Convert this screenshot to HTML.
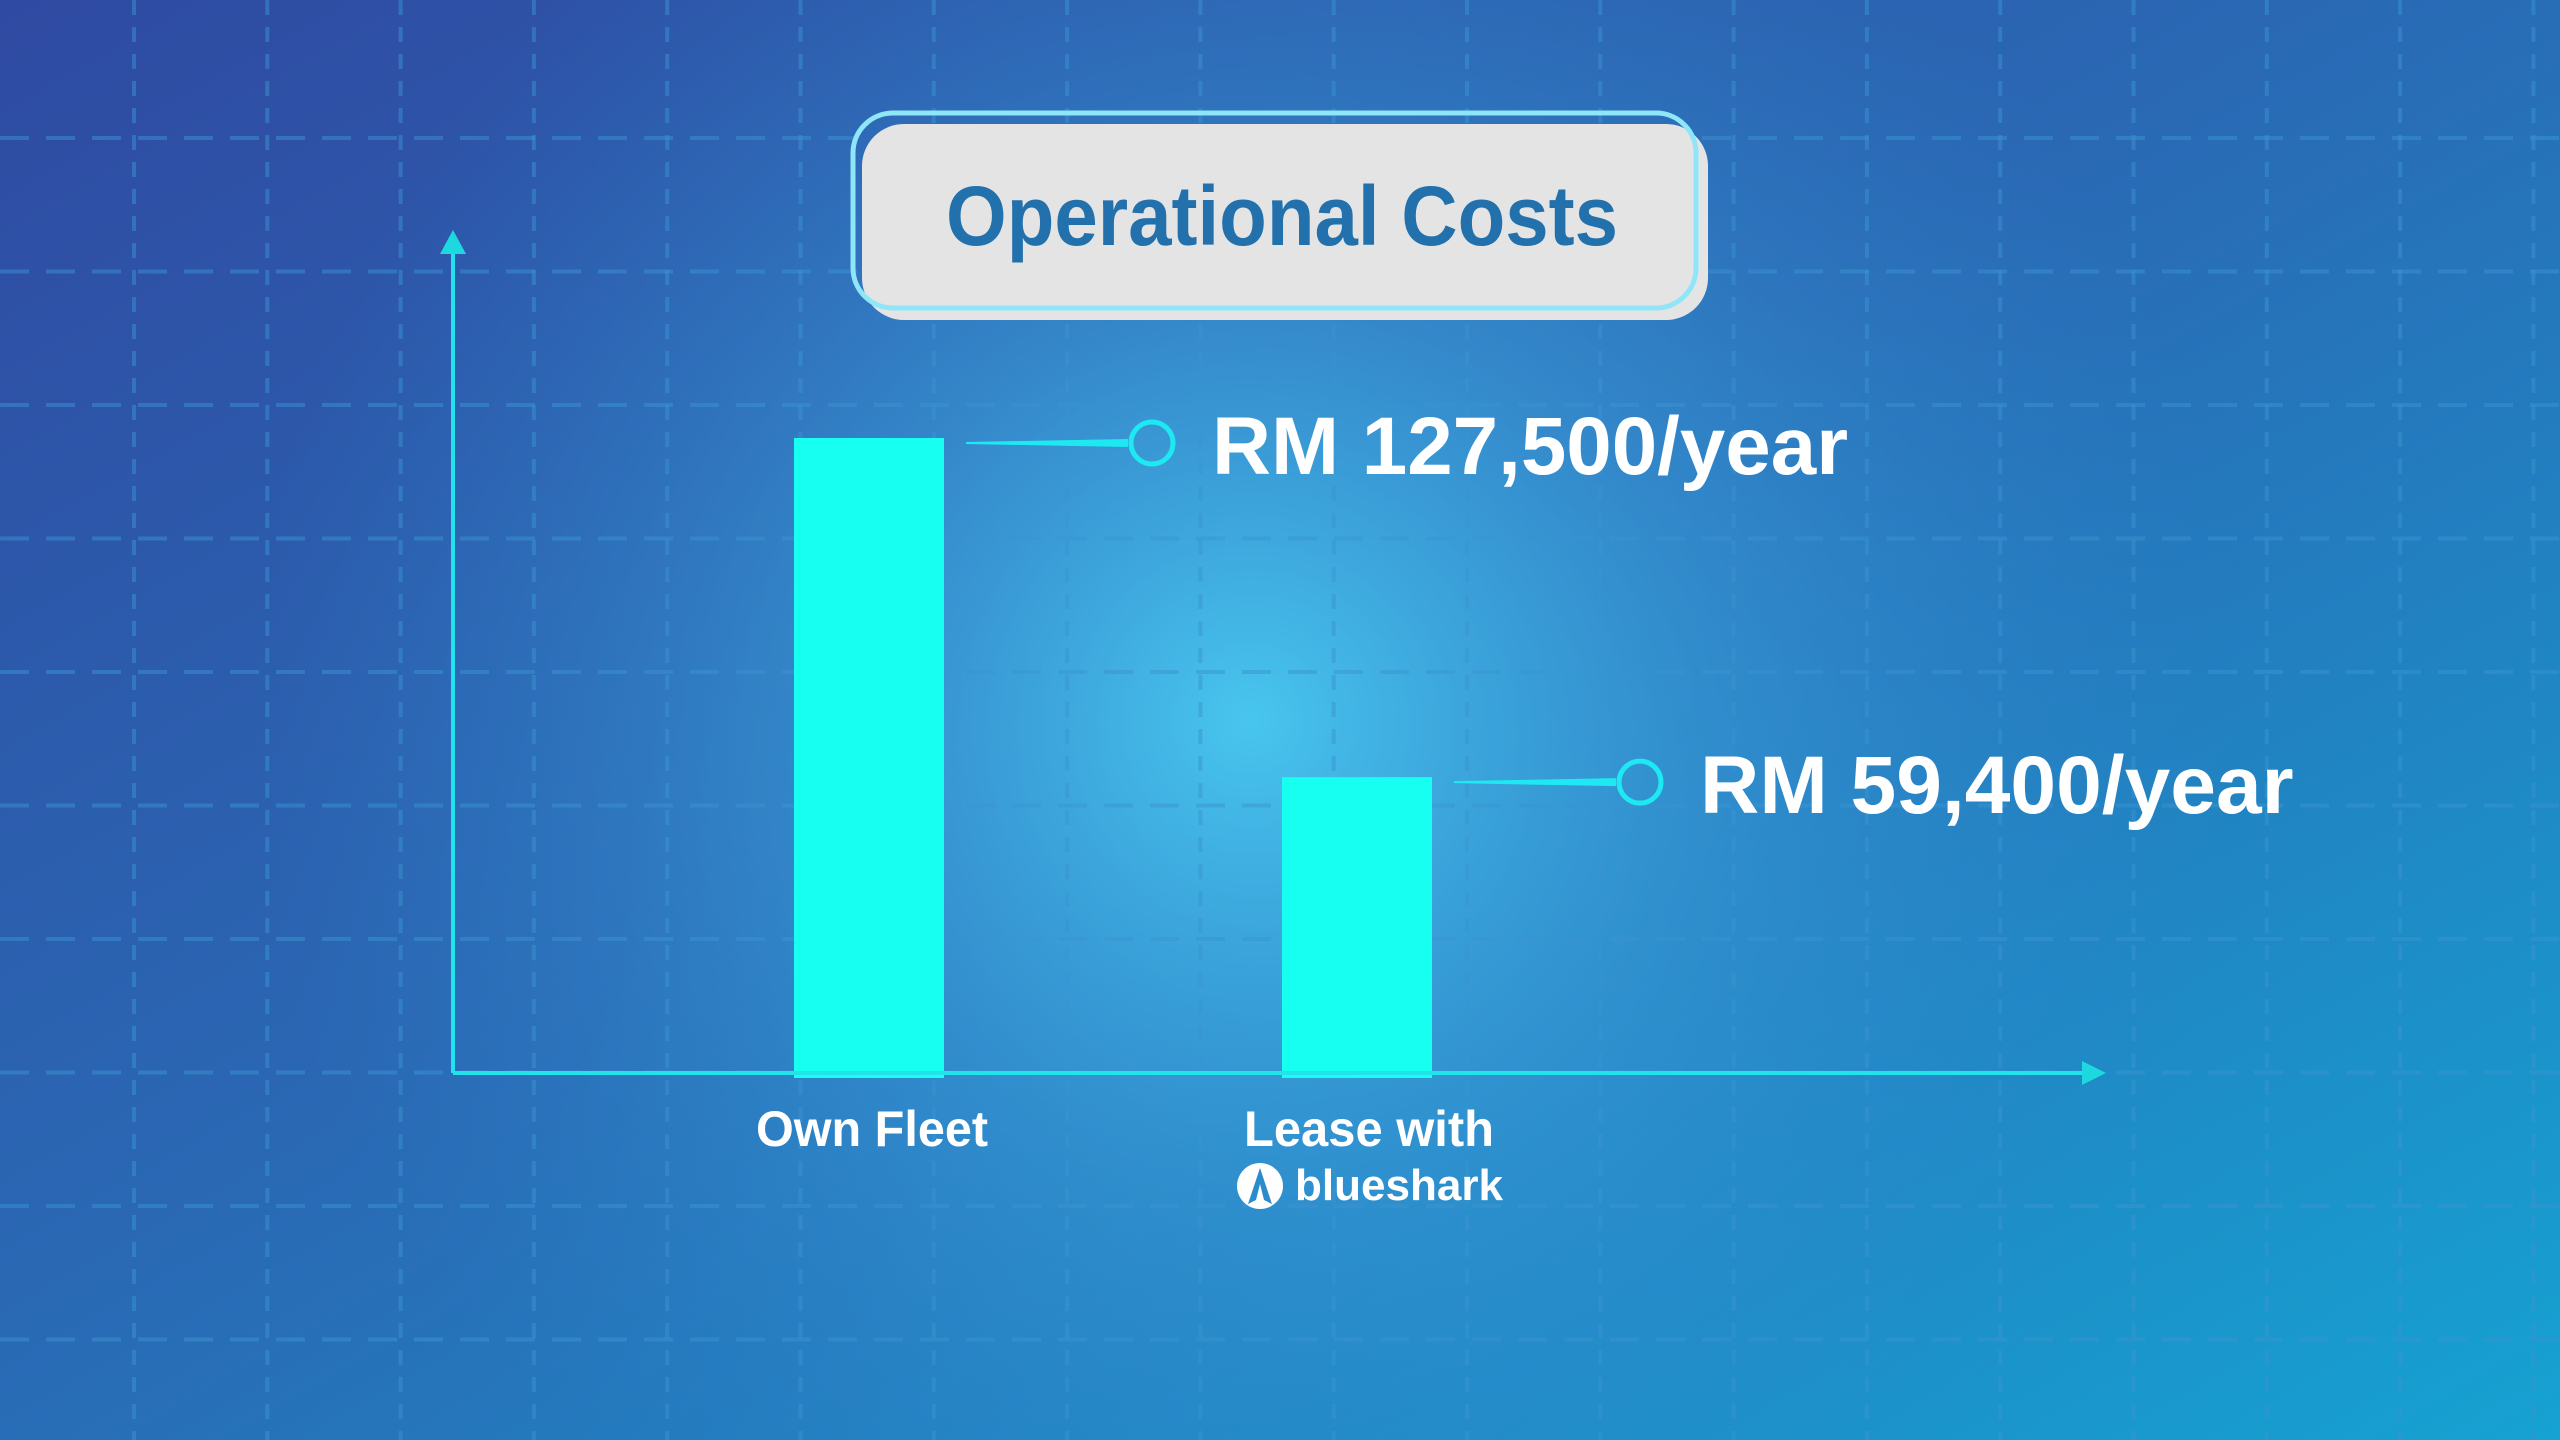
<!DOCTYPE html>
<html><head><meta charset="utf-8"><style>
html,body{margin:0;padding:0;width:2560px;height:1440px;overflow:hidden}
svg{display:block}
text{font-family:"Liberation Sans",sans-serif;font-weight:bold}
</style></head><body>
<svg id="chart" width="2560" height="1440" viewBox="0 0 2560 1440" xmlns="http://www.w3.org/2000/svg">
<defs>
<linearGradient id="bg" x1="0" y1="0" x2="1" y2="1">
<stop offset="0" stop-color="#2f4aa2"/>
<stop offset="0.45" stop-color="#2a68b4"/>
<stop offset="1" stop-color="#16a2d2"/>
</linearGradient>
<radialGradient id="glow" cx="1250" cy="720" r="1000" gradientUnits="userSpaceOnUse">
<stop offset="0" stop-color="#48c6ef" stop-opacity="1"/>
<stop offset="0.45" stop-color="#3aa0db" stop-opacity="0.55"/>
<stop offset="1" stop-color="#2a80c8" stop-opacity="0"/>
</radialGradient>
</defs>
<rect width="2560" height="1440" fill="url(#bg)"/>
<rect width="2560" height="1440" fill="url(#glow)"/>
<g id="grid" stroke="#3a94cf" stroke-opacity="0.5" stroke-width="4"></g>
<g>
<rect x="862" y="124" width="846" height="196" rx="42" fill="#e4e4e4"/>
<rect x="853" y="113" width="843" height="195" rx="40" fill="none" stroke="#8ee6f8" stroke-width="5"/>
<text x="946" y="245" font-size="84" fill="#2271ac" textLength="672" lengthAdjust="spacingAndGlyphs">Operational Costs</text>
</g>
<g>
<line x1="453" y1="250" x2="453" y2="1073" stroke="#22e2ea" stroke-width="4"/>
<polygon points="453,230 440,254 466,254" fill="#1ed8e0"/>
</g>
<g id="bars"></g>
<g>
<line x1="453" y1="1073" x2="2085" y2="1073" stroke="#22e2ea" stroke-width="4"/>
<polygon points="2106,1073 2082,1061 2082,1085" fill="#1ed8e0"/>
</g>
<g id="labels"></g>
<text x="872" y="1146" font-size="50" fill="#fff" text-anchor="middle" textLength="232" lengthAdjust="spacingAndGlyphs">Own Fleet</text>
<text x="1369" y="1146" font-size="50" fill="#fff" text-anchor="middle" textLength="250" lengthAdjust="spacingAndGlyphs">Lease with</text>
<g>
<circle cx="1260" cy="1186" r="23" fill="#fff"/>
<path d="M1260,1168 L1248,1204 L1256,1200 L1260,1184 L1264,1200 L1272,1204 Z" fill="#2a8ccb"/>
<text x="1295" y="1200" font-size="44" fill="#fff" textLength="208" lengthAdjust="spacingAndGlyphs">blueshark</text>
</g>
</svg>
<script>
const categories = ["Own Fleet", "Lease with blueshark"];
const costValues = [127500, 59400];
const valueLabels = ["RM 127,500/year", "RM 59,400/year"];

const NS = "http://www.w3.org/2000/svg";
const baseY = 1073, pxPerUnit = 635 / 127500;
function yScale(v){ return baseY - v * pxPerUnit; }
const barX0 = 794, barStep = 488, barW = 150;
function xScale(i){ return barX0 + i * barStep; }

const grid = document.getElementById('grid');
for (let x = 134; x < 2560; x += 133.3) {
  const l = document.createElementNS(NS, 'line');
  
  
  l.setAttribute('x1', x); l.setAttribute('x2', x); l.setAttribute('y1', 0); l.setAttribute('y2', 1440);
  l.setAttribute('stroke-dasharray', '15 12');
  grid.appendChild(l);
}
for (let y = 138; y < 1440; y += 133.5) {
  const l = document.createElementNS(NS, 'line');
  
  
  l.setAttribute('x1', 0); l.setAttribute('x2', 2560); l.setAttribute('y1', y); l.setAttribute('y2', y);
  l.setAttribute('stroke-dasharray', '29 17');
  grid.appendChild(l);
}

const bars = document.getElementById('bars');
const labels = document.getElementById('labels');
costValues.forEach((v, i) => {
  const x = xScale(i), top = yScale(v);
  const r = document.createElementNS(NS, 'rect');
  
  
  r.setAttribute('x', x); r.setAttribute('y', top);
  r.setAttribute('width', barW); r.setAttribute('height', baseY + 5 - top);
  r.setAttribute('fill', '#16fff0');
  bars.appendChild(r);

  const cy = top + 5;
  const lx0 = x + barW + 22, cx = x + barW + 208;
  const p = document.createElementNS(NS, 'polygon');
  
  
  p.setAttribute('points', `${lx0},${cy-1} ${cx-24},${cy-4} ${cx-24},${cy+4} ${lx0},${cy+1}`);
  p.setAttribute('fill', '#1ee8f2');
  labels.appendChild(p);

  const c = document.createElementNS(NS, 'circle');
  
  
  c.setAttribute('cx', cx); c.setAttribute('cy', cy); c.setAttribute('r', 21);
  c.setAttribute('fill', 'none'); c.setAttribute('stroke', '#1ee8f2'); c.setAttribute('stroke-width', 5);
  labels.appendChild(c);

  const t = document.createElementNS(NS, 'text');
  
  
  t.setAttribute('x', cx + 60); t.setAttribute('y', cy + 31);
  t.setAttribute('font-size', 82); t.setAttribute('fill', '#ffffff');
  t.setAttribute('textLength', valueLabels[i].length * 42.4);
  t.setAttribute('lengthAdjust', 'spacingAndGlyphs');
  t.textContent = valueLabels[i];
  labels.appendChild(t);
});
</script>
</body></html>
